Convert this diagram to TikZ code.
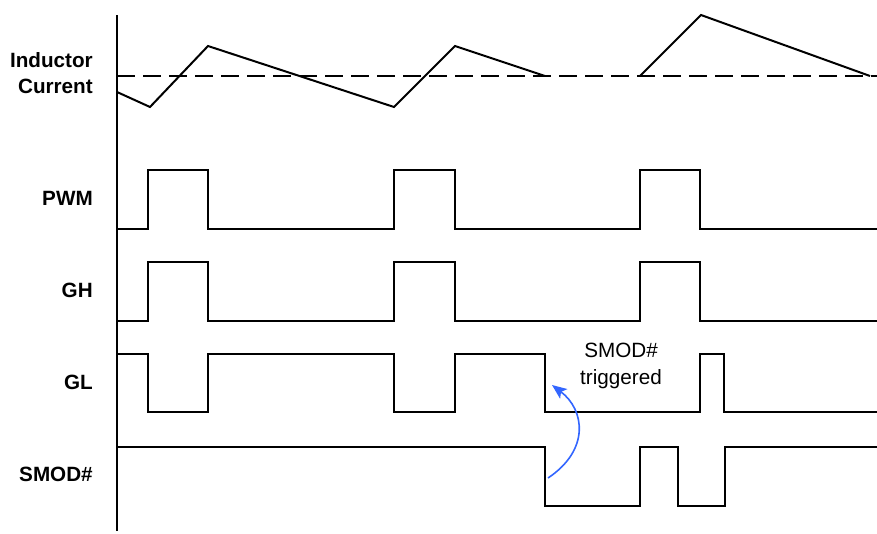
\documentclass[tikz,border=0pt]{standalone}
\usepackage{fontspec}
\setmainfont{Liberation Sans}
\usetikzlibrary{arrows.meta}
\definecolor{smodblue}{RGB}{51,102,255}
\begin{document}
\begin{tikzpicture}[x=0.75pt,y=-0.75pt,
    sig/.style={line width=1.5pt,line join=miter},
    siglabel/.style={anchor=east,align=right,inner xsep=0pt,font=\fontsize{15.5}{20}\selectfont\bfseries},
    note/.style={align=center,font=\fontsize{15.5}{20}\selectfont}]
  \useasboundingbox (0,0) rectangle (877,533);
  % labels
  \draw
    (93,73) node[siglabel] (il){Inductor\\Current}
    (93,198) node[siglabel] (pwm){PWM}
    (93,290) node[siglabel] (gh){GH}
    (93,382) node[siglabel] (gl){GL}
    (93,474) node[siglabel] (smod){SMOD\#};
  % time axis
  \draw[line width=1.5pt] (117,15) -- (117,531);
  % inductor current
  \draw[line width=1.5pt,dash pattern=on 13.5pt off 6pt] (117,76) -- (877,76);
  \draw[sig] (117,92) -- (150,107) -- (208,46) -- (394,107) -- (455,46) -- (545,76);
  \draw[sig] (640,76) -- (701,15) -- (870,76);
  % gate signals
  \begin{scope}[sig]
    \draw (117,229) -| (148,170) -| (208,229) -| (394,170) -| (455,229)
      -| (640,170) -| (700,229) -- (877,229);
    \draw (117,321) -| (148,262) -| (208,321) -| (394,262) -| (455,321)
      -| (640,262) -| (700,321) -- (877,321);
    \draw (117,354) -| (148,412) -| (208,354) -| (394,412) -| (455,354)
      -| (545,412) -| (700,354) -| (724,412) -- (877,412);
    \draw (117,447) -| (545,506) -| (640,447) -| (678,506) -| (725,447) -- (877,447);
  \end{scope}
  % SMOD# trigger
  \coordinate (smodfall) at (548,478);
  \coordinate (gltip) at (552,385);
  \draw[smodblue,line width=1.2pt,-{Stealth[length=11pt,width=9pt,inset=2.5pt]}]
    (smodfall) .. controls (590,450) and (585,410) .. (gltip);
  \node[note] (trig) at (621,366) {SMOD\#\\triggered};
\end{tikzpicture}
\end{document}
